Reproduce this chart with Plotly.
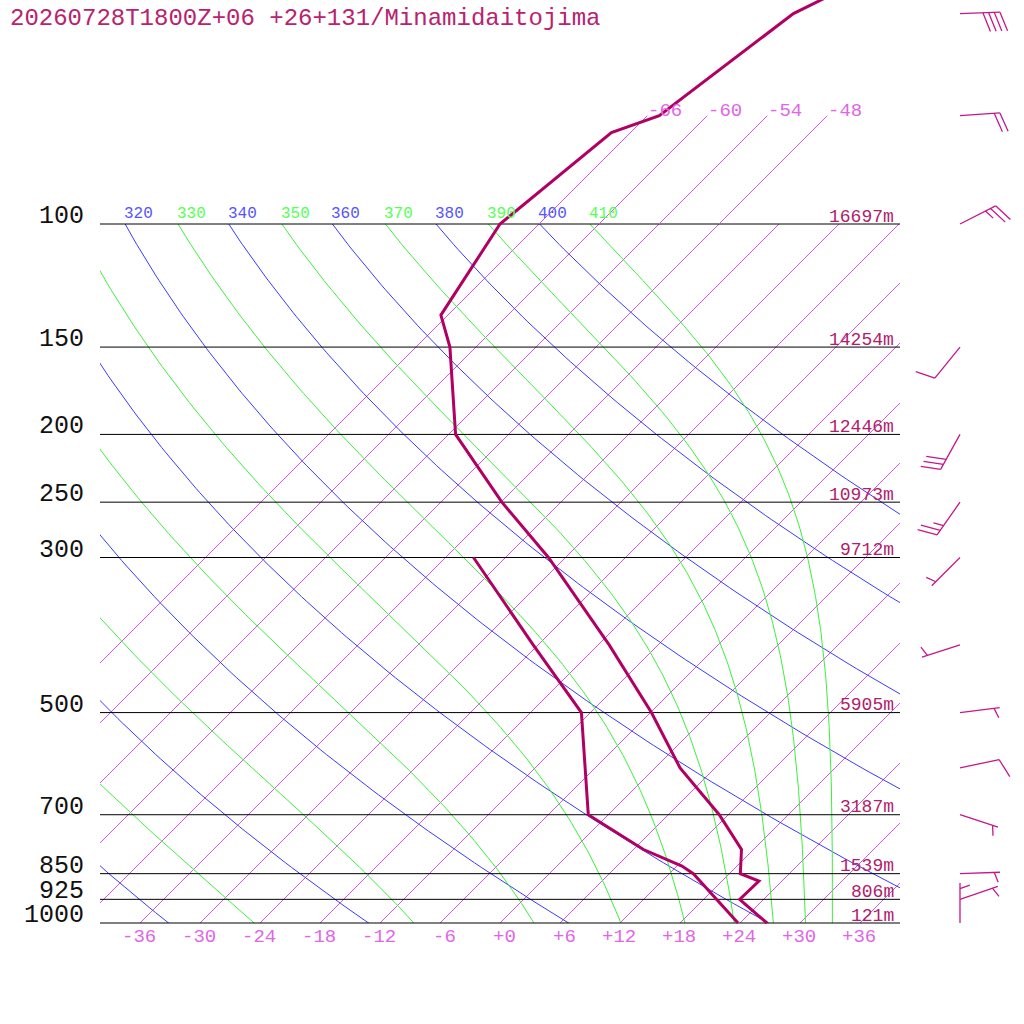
import numpy as np
import plotly.graph_objects as go

title = "20260728T1800Z+06 +26+131/Minamidaitojima"

# temperature profile (hPa, degC)
t_pres = [30, 50, 70, 74, 100, 135, 150, 200, 250, 300, 400, 500, 600, 700, 785, 850, 871, 925, 1000]
t_temp = [-45.7, -61.6, -64.8, -67.9, -69.9, -66.7, -62.6, -53.3, -41.9, -31.7, -16.9, -5.9, 2.5, 11.1, 16.8, 19.1, 21.7, 21.6, 26.7]

# dewpoint profile
d_pres = [300, 400, 500, 700, 785, 829, 850, 925, 1000]
d_temp = [-39.2, -24.5, -12.9, -2.0, 7.0, 12.5, 14.4, 19.3, 23.8]

# winds: direction (deg) and speed (kt)
w_pres = [50, 70, 100, 150, 200, 250, 300, 400, 500, 600, 700, 850, 925, 1000]
w_dir = [88, 86, 63, 219, 209, 215, 225, 252, 83, 78, 108, 88, 71, 0]
w_spd = [40, 20, 25, 10, 30, 25, 5, 5, 5, 10, 5, 5, 5, 5]

# standard levels and their heights
lev_pres = [100, 150, 200, 250, 300, 500, 700, 850, 925, 1000]
lev_hgt = [16697, 14254, 12446, 10973, 9712, 5905, 3187, 1539, 806, 121]

t_ticks = list(range(-36, 37, 6))
iso_temps = list(range(-66, 37, 6))
iso_top = [-66, -60, -54, -48]
thetas = list(range(240, 401, 20))
theta_es = list(range(250, 411, 20))

SKEW = 69.9  # degC shift per decade of pressure
PROF = "#b00062"
ISO = "#d455e6"
DRY = "#3a3aff"
WET = "#3cf03c"
LBL = "#e066e6"
HGT = "#b0206a"
FONT = "Liberation Mono"


def skx(t, p):
    return np.asarray(t) + SKEW * np.log10(1000.0 / np.asarray(p))


def theta_e(tk, p):
    tc = tk - 273.15
    e = 6.112 * np.exp(17.67 * tc / (tc + 243.5))
    r = 0.622 * e / (p - e)
    return tk * (1000.0 / p) ** (0.2854 * (1 - 0.28 * r)) * np.exp(
        (3.376 / tk - 0.00254) * r * 1000 * (1 + 0.81 * r))


def moist_t(the, p):
    lo = np.full_like(p, 150.0)
    hi = np.full_like(p, 315.0)
    for _ in range(60):
        mid = (lo + hi) / 2
        big = theta_e(mid, p) > the
        hi = np.where(big, mid, hi)
        lo = np.where(big, lo, mid)
    return (lo + hi) / 2 - 273.15


def join(lines):
    xs, ys = [], []
    for x, y in lines:
        xs += list(x) + [None]
        ys += list(y) + [None]
    return xs, ys


fig = go.Figure()
pp = np.logspace(np.log10(95), np.log10(1010), 160)

# isotherms (clipped by the lower subplot box)
x, y = join([(skx([t, t], [1010, 95]), [1010, 95]) for t in iso_temps])
fig.add_trace(go.Scatter(x=x, y=y, mode="lines", line=dict(color=ISO, width=1), hoverinfo="skip"))

# dry adiabats
x, y = join([(skx(th * (pp / 1000) ** 0.2857 - 273.15, pp), pp) for th in thetas])
fig.add_trace(go.Scatter(x=x, y=y, mode="lines", line=dict(color=DRY, width=1), hoverinfo="skip"))

# moist adiabats
x, y = join([(skx(moist_t(te, pp), pp), pp) for te in theta_es])
fig.add_trace(go.Scatter(x=x, y=y, mode="lines", line=dict(color=WET, width=1), hoverinfo="skip"))

# ---- full-page subplot ----
x, y = join([([-40, 40], [p, p]) for p in lev_pres])
fig.add_trace(go.Scatter(x=x, y=y, mode="lines", line=dict(color="black", width=1),
                         xaxis="x2", yaxis="y2", hoverinfo="skip"))

x, y = join([(skx([t, t], [100, 70]), [100, 70]) for t in iso_top])
fig.add_trace(go.Scatter(x=x, y=y, mode="lines", line=dict(color=ISO, width=1),
                         xaxis="x2", yaxis="y2", hoverinfo="skip"))

fig.add_trace(go.Scatter(x=skx(t_temp, t_pres), y=t_pres, mode="lines",
                         line=dict(color=PROF, width=3), xaxis="x2", yaxis="y2"))
fig.add_trace(go.Scatter(x=skx(d_temp, d_pres), y=d_pres, mode="lines",
                         line=dict(color=PROF, width=3), xaxis="x2", yaxis="y2"))


# wind barbs, built in pixel units then mapped to axis units
def barb(p0, d, spd, x0=46.0):
    a = np.radians(d)
    u = np.array([np.sin(a), -np.cos(a)])
    n = np.array([np.cos(a), np.sin(a)])
    full = 6.9 * u + 18.9 * n
    segs = [(np.zeros(2), 40 * u)]
    nf, half = spd // 10, spd % 10 >= 5
    for k in range(nf):
        s = (40 - 5.7 * k) * u
        segs.append((s, s + full))
    if half:
        k = nf if nf > 0 else 1
        s = (40 - 5.7 * k) * u
        segs.append((s, s + 0.52 * full))
    out = []
    for a0, a1 in segs:
        px = np.array([a0[0], a1[0]])
        py = np.array([a0[1], a1[1]])
        out.append((x0 + px / 10.0, p0 * 10 ** (py / 699.0)))
    return out


segs = []
for p, d, s in zip(w_pres, w_dir, w_spd):
    segs += barb(p, d, s)
x, y = join(segs)
fig.add_trace(go.Scatter(x=x, y=y, mode="lines", line=dict(color="#c4188a", width=1.3),
                         xaxis="x2", yaxis="y2", hoverinfo="skip"))

ann = []
for p in lev_pres:
    ann.append(dict(x=-41.4, y=np.log10(p), text=str(p), xanchor="right", yanchor="middle",
                    yshift=7.5, font=dict(family=FONT, size=25, color="#111111")))
for p, h in zip(lev_pres, lev_hgt):
    ann.append(dict(x=39.6, y=np.log10(p), text=f"{h}m", xanchor="right", yanchor="middle",
                    yshift=7.5, font=dict(family=FONT, size=18, color=HGT)))
for t in t_ticks:
    ann.append(dict(x=t + 1.8, y=3.0, text=f"{t:+d}", xanchor="right", yanchor="middle",
                    yshift=-13.5, font=dict(family=FONT, size=19, color=LBL)))
for t in iso_top:
    ann.append(dict(x=float(skx(t, 70)), y=np.log10(70), text=f"{t:d}", xanchor="left",
                    yanchor="middle", yshift=4.5, xshift=-1, font=dict(family=FONT, size=19, color=LBL)))
for th in thetas:
    xs = float(skx(th * 0.1 ** 0.2857 - 273.15, 100))
    if xs > -40:
        ann.append(dict(x=xs, y=2.0, text=str(th), xanchor="left", yanchor="middle", yshift=10.5,
                        xshift=-3, font=dict(family=FONT, size=16, color="#5555ff")))
for te in theta_es:
    xs = float(skx(moist_t(te, np.array([100.0]))[0], 100))
    if xs > -40:
        ann.append(dict(x=xs, y=2.0, text=str(te), xanchor="left", yanchor="middle", yshift=10.5,
                        xshift=-3, font=dict(family=FONT, size=16, color="#55ff55")))
for a in ann:
    a.update(xref="x2", yref="y2", showarrow=False)
ann.append(dict(x=8 / 1024, y=1 - 18.5 / 1024, xref="paper", yref="paper", text=title,
                xanchor="left", yanchor="middle", showarrow=False,
                font=dict(family=FONT, size=24, color="#b8226e")))

ytop = 3 - 923 / 699
ybot = 3 + 101 / 699
fig.update_layout(
    width=1024, height=1024, margin=dict(l=0, r=0, t=0, b=0),
    paper_bgcolor="white", plot_bgcolor="rgba(0,0,0,0)", showlegend=False,
    xaxis=dict(domain=[100 / 1024, 900 / 1024], range=[-40, 40], visible=False),
    yaxis=dict(domain=[1 - 923 / 1024, 1 - 224 / 1024], type="log", range=[3, 2], visible=False),
    xaxis2=dict(domain=[0, 1], range=[-50, 52.4], visible=False, anchor="y2"),
    yaxis2=dict(domain=[0, 1], type="log", range=[ybot, ytop], visible=False, anchor="x2"),
    annotations=ann,
)
fig.write_html("out.html", config={"displayModeBar": False},
               post_script="document.body.style.margin='0px';")
